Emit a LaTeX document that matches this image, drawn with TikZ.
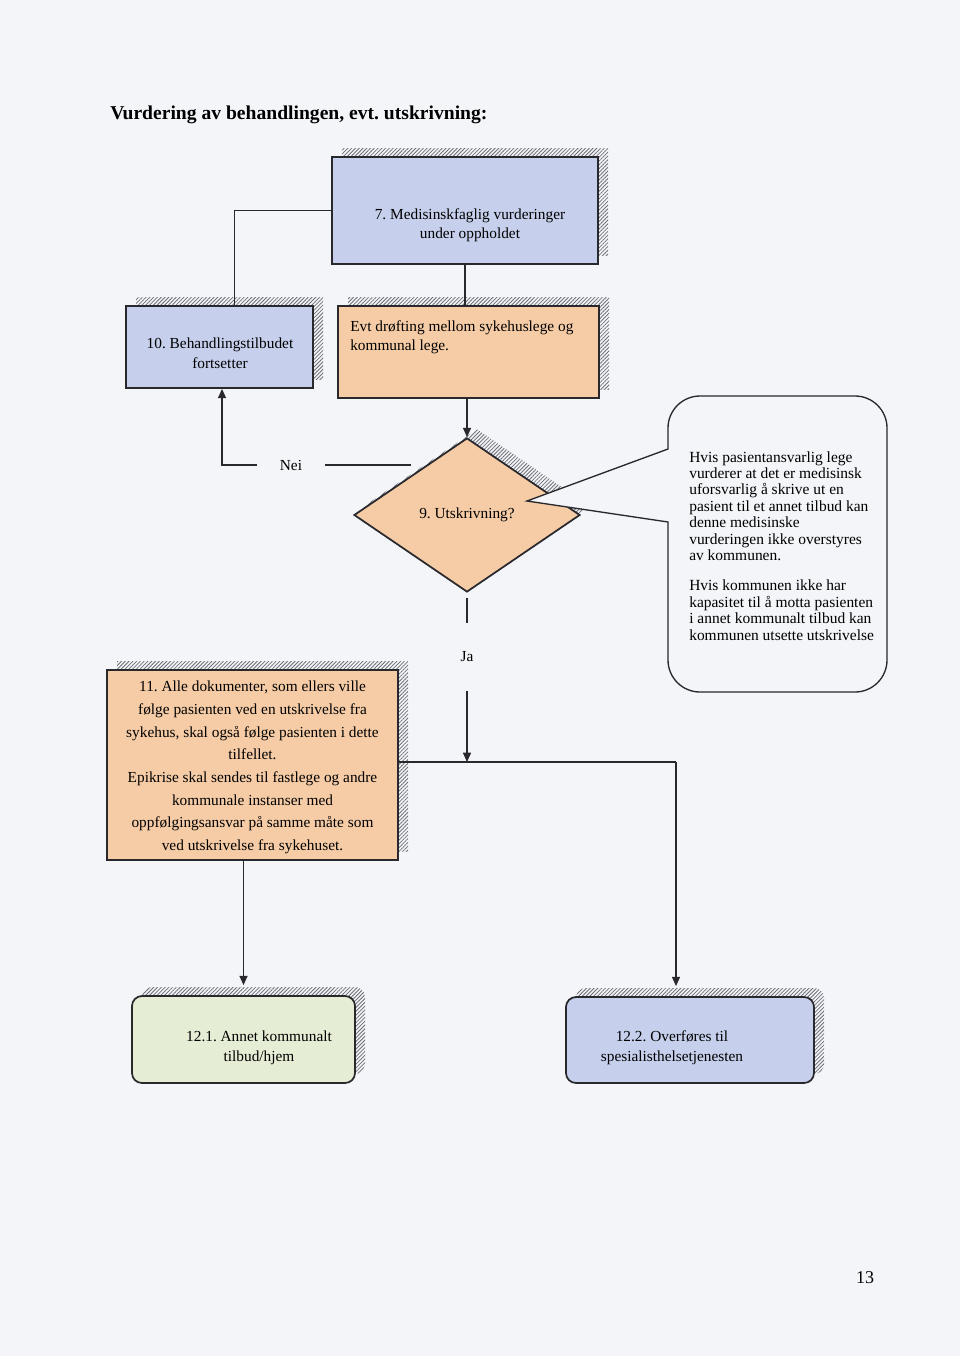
\documentclass[tikz,border=0pt]{standalone}
\usepackage{fontspec}
\setmainfont{Liberation Serif}
\usetikzlibrary{shapes.geometric,shadows,patterns.meta,arrows.meta}
\definecolor{bgc}{RGB}{243,245,248}
\definecolor{bluefill}{RGB}{198,208,236}
\definecolor{orangefill}{RGB}{246,204,166}
\definecolor{greenfill}{RGB}{229,237,213}
\definecolor{edgec}{RGB}{40,40,45}
\definecolor{hatchc}{RGB}{110,110,120}
\tikzset{
  hatched/.style={general shadow={pattern={Lines[angle=45,distance=2pt,line width=0.6pt]},pattern color=hatchc,shadow xshift=7.5pt,shadow yshift=6.75pt}},
  flowbox/.style={draw=edgec,line width=1.3pt,hatched,inner sep=0pt},
  bluebox/.style={flowbox,fill=bluefill},
  orangebox/.style={flowbox,fill=orangefill},
  greenbox/.style={flowbox,fill=greenfill,rounded corners=7.5pt},
  roundblue/.style={flowbox,fill=bluefill,rounded corners=7.5pt},
  boxtext/.style={align=center,inner sep=0pt},
  conn/.style={draw=edgec,line width=1.1pt},
  arr/.style={conn,-{Triangle[length=7pt,width=6pt]}},
  gaplabel/.style={fill=bgc,inner sep=0pt,font=\fontsize{11.5pt}{13pt}\selectfont},
}
\begin{document}
\frenchspacing
\begin{tikzpicture}[x=0.75pt,y=-0.75pt]
\fill[bgc] (0,0) rectangle (960,1356);
\useasboundingbox (0,0) rectangle (960,1356);

% title
\node[anchor=base west,inner sep=0pt,font=\fontsize{14.7pt}{17pt}\selectfont\bfseries] (title) at (110,119) {Vurdering av behandlingen, evt. utskrivning:};

% box 7
\node[bluebox,minimum width=199.5pt,minimum height=80.25pt] (b7) at (465,210.5) {};
\node[boxtext,font=\fontsize{11.5pt}{14.25pt}\selectfont] (t7) at (470,225) {7. Medisinskfaglig vurderinger\\under oppholdet};

% box 10
\node[bluebox,minimum width=140.25pt,minimum height=61.5pt] (b10) at (219.5,347) {};
\node[boxtext,font=\fontsize{11.5pt}{15pt}\selectfont] (t10) at (220,353) {10. Behandlingstilbudet\\fortsetter};

% evt box
\node[orangebox,minimum width=195.75pt,minimum height=69pt] (bevt) at (468.5,352) {};
\node[anchor=west,align=left,inner sep=0pt,font=\fontsize{11.5pt}{13.9pt}\selectfont] (tevt) at (350,337.5) {Evt drøfting mellom sykehuslege og\\kommunal lege.};

% diamond
\node[diamond,draw=edgec,line width=1.3pt,fill=orangefill,hatched,inner sep=0pt,shape aspect=1.47,minimum width=169.5pt,minimum height=115.5pt,font=\fontsize{11.5pt}{13pt}\selectfont] (dia) at (467,515) {9. Utskrivning?};

% box 11
\node[orangebox,minimum width=218.25pt,minimum height=142.5pt] (b11) at (252.5,765) {};
\node[boxtext,font=\fontsize{11.5pt}{17pt}\selectfont] (t11) at (252.5,767.5) {11. Alle dokumenter, som ellers ville\\følge pasienten ved en utskrivelse fra\\sykehus, skal også følge pasienten i dette\\tilfellet.\\Epikrise skal sendes til fastlege og andre\\kommunale instanser med\\oppfølgingsansvar på samme måte som\\ved utskrivelse fra sykehuset.};

% box 12.1
\node[greenbox,minimum width=167.25pt,minimum height=65.25pt] (b121) at (243.5,1039.5) {};
\node[boxtext,font=\fontsize{11.5pt}{15pt}\selectfont] (t121) at (259,1047.5) {12.1. Annet kommunalt\\tilbud/hjem};

% box 12.2
\node[roundblue,minimum width=186pt,minimum height=64.5pt] (b122) at (690,1040) {};
\node[boxtext,font=\fontsize{11.5pt}{15pt}\selectfont] (t122) at (672,1047.5) {12.2. Overføres til\\spesialisthelsetjenesten};

% callout
\coordinate (tip) at (527,501);
\draw[edgec,line width=1pt,fill=bgc] (780,396) [rounded corners=24pt] -- (668,396) [sharp corners] -- (668,449) -- (tip) -- (668,522) [rounded corners=24pt] -- (668,692) -- (887,692) -- (887,396) -- cycle;
\node[anchor=north west,align=left,inner sep=0pt,font=\fontsize{11.6pt}{12.3pt}\selectfont] (note) at (689,451) {Hvis pasientansvarlig lege\\vurderer at det er medisinsk\\uforsvarlig å skrive ut en\\pasient til et annet tilbud kan\\denne medisinske\\vurderingen ikke overstyres\\av kommunen.\\[10.6pt]Hvis kommunen ikke har\\kapasitet til å motta pasienten\\i annet kommunalt tilbud kan\\kommunen utsette utskrivelse};

% connectors
\draw[conn] (b7.west) -| ([xshift=11.25pt]b10.north);
\draw[conn] (b7.south) -- (b7.south |- bevt.north);
\draw[arr] (bevt.south -| dia.north) -- (dia.north);

\coordinate (neiA) at (411,465);
\coordinate (nc) at (222,465);
\draw[arr] (neiA) -- node[gaplabel,pos=0.635,minimum width=51pt,minimum height=12pt] (nei) {Nei} (nc) -- (b10.south -| nc);

\coordinate (jn) at (467,762);
\coordinate (jr) at (676,762);
\draw[arr] ([yshift=-3.75pt]dia.south) -- node[gaplabel,pos=0.36,minimum height=51pt] (ja) {Ja} (jn);
\draw[conn] (b11.east |- jn) -- (jr);
\draw[arr,shorten >=7.5pt] (jr) -- (b122.north -| jr);
\draw[arr,shorten >=7.5pt] (b11.south -| b121.north) -- (b121.north);

% page number
\node[inner sep=0pt,font=\fontsize{13.5pt}{15pt}\selectfont] (pg) at (865,1278) {13};
\end{tikzpicture}
\end{document}
